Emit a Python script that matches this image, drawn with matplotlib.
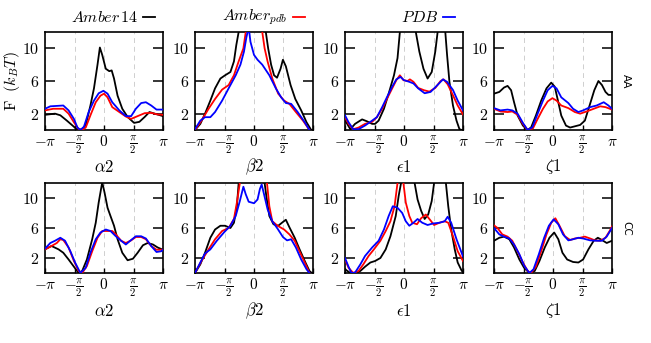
import numpy as np
import matplotlib
matplotlib.use("Agg")
import matplotlib.pyplot as plt
from matplotlib.lines import Line2D

plt.rcParams['mathtext.fontset'] = 'cm'
plt.rcParams['font.family'] = ['DejaVu Sans']

# ---------------- data (x in units of pi, y = F in k_B T) ----------------
rows = ['AA', 'CC']
angle_labels = [r'$\alpha 2$', r'$\beta 2$', r'$\epsilon 1$', r'$\zeta 1$']
series_labels = [r'$Amber\,14$', r'$Amber_{pdb}$', r'$PDB$']
series_colors = ['black', 'red', 'blue']
xtick_vals = [-1, -0.5, 0, 0.5, 1]
xtick_labels = [r'$-\pi$', r'$-\frac{\pi}{2}$', r'$0$', r'$\frac{\pi}{2}$', r'$\pi$']
ytick_vals = [2, 6, 10]

# AA - alpha2
aa_alpha2_amber14 = [(-1, 1.86), (-0.83, 2.0), (-0.74, 1.8), (-0.63, 1.15), (-0.51, 0.4), (-0.45, 0.0),
                     (-0.37, 0.1), (-0.31, 0.6), (-0.23, 3.0), (-0.17, 5.1), (-0.11, 8.0), (-0.07, 10.1),
                     (-0.03, 9.2), (0.03, 7.5), (0.09, 7.2), (0.13, 7.3), (0.17, 6.3), (0.23, 4.2),
                     (0.31, 2.6), (0.40, 1.6), (0.51, 0.87), (0.60, 1.0), (0.69, 1.6), (0.77, 2.2),
                     (0.86, 2.0), (1.0, 1.7)]
aa_alpha2_amberpdb = [(-1, 2.4), (-0.86, 2.6), (-0.69, 2.6), (-0.6, 2.0), (-0.51, 0.95), (-0.43, 0.1),
                      (-0.37, 0.0), (-0.31, 0.3), (-0.23, 1.8), (-0.14, 3.4), (-0.06, 4.2), (0, 4.45),
                      (0.06, 4.0), (0.14, 2.8), (0.26, 2.2), (0.37, 1.65), (0.46, 1.36), (0.57, 1.7),
                      (0.69, 2.06), (0.8, 2.1), (0.91, 1.9), (1, 1.86)]
aa_alpha2_pdb = [(-1, 2.6), (-0.91, 2.9), (-0.69, 3.0), (-0.6, 2.4), (-0.51, 1.36), (-0.45, 0.3),
                 (-0.4, 0.0), (-0.34, 0.4), (-0.26, 2.2), (-0.17, 3.6), (-0.09, 4.5), (-0.01, 4.8),
                 (0.06, 4.45), (0.14, 3.4), (0.26, 2.4), (0.37, 1.7), (0.46, 1.7), (0.54, 2.6),
                 (0.63, 3.3), (0.71, 3.4), (0.8, 3.0), (0.89, 2.5), (1, 2.5)]

# AA - beta2
aa_beta2_amber14 = [(-1, 0), (-0.91, 0.75), (-0.83, 2.0), (-0.74, 3.6), (-0.66, 5.1), (-0.57, 6.3),
                    (-0.49, 6.7), (-0.4, 7.1), (-0.34, 8.4), (-0.3, 10.4), (-0.26, 12.0), (-0.22, 14),
                    (0.16, 14), (0.2, 12), (0.24, 10), (0.29, 8.0), (0.34, 6.7), (0.39, 6.4),
                    (0.45, 7.5), (0.49, 8.6), (0.54, 7.8), (0.62, 5.5), (0.7, 3.8), (0.8, 2.4),
                    (0.89, 0.95), (0.97, 0)]
aa_beta2_amberpdb = [(-1, 0), (-0.89, 1.15), (-0.77, 2.6), (-0.66, 3.8), (-0.54, 4.95), (-0.43, 5.5),
                     (-0.34, 6.7), (-0.26, 8.4), (-0.18, 10), (-0.14, 12), (-0.1, 14), (0.1, 14),
                     (0.14, 12), (0.18, 10), (0.23, 8.4), (0.31, 6.3), (0.41, 4.45), (0.51, 3.6),
                     (0.6, 3.2), (0.71, 2.2), (0.83, 1.15), (0.94, 0)]
aa_beta2_pdb = [(-1, 0.1), (-0.91, 1.15), (-0.83, 1.57), (-0.74, 1.57), (-0.66, 2.2), (-0.54, 3.6),
                (-0.43, 5.1), (-0.31, 6.7), (-0.23, 8.0), (-0.17, 9.6), (-0.13, 11.3), (-0.09, 12.6),
                (-0.06, 10.8), (0, 9.2), (0.06, 8.6), (0.14, 8.0), (0.26, 6.7), (0.37, 5.1),
                (0.46, 4.0), (0.54, 3.3), (0.63, 3.2), (0.74, 2.2), (0.86, 0.95), (0.94, 0)]

# AA - epsilon1
aa_eps1_amber14 = [(-1, 1.2), (-0.91, 0.1), (-0.83, 0.75), (-0.71, 1.3), (-0.63, 1.07), (-0.54, 0.75),
                   (-0.49, 0.75), (-0.43, 1.15), (-0.34, 2.6), (-0.26, 4.45), (-0.17, 6.7), (-0.11, 8.8),
                   (-0.07, 12), (-0.03, 15), (0.16, 15), (0.2, 12), (0.26, 9.6), (0.33, 7.5),
                   (0.4, 6.3), (0.47, 7.1), (0.53, 9.6), (0.57, 12), (0.6, 14), (0.67, 14),
                   (0.7, 12), (0.73, 9.2), (0.77, 5.9), (0.83, 3.0), (0.89, 1.15), (0.94, 0.1), (0.98, 0)]
aa_eps1_amberpdb = [(-1, 1.57), (-0.94, 0.75), (-0.86, 0.1), (-0.77, 0.3), (-0.66, 0.75), (-0.54, 1.0),
                    (-0.46, 1.57), (-0.37, 2.6), (-0.29, 3.8), (-0.2, 5.1), (-0.13, 6.1), (-0.07, 6.7),
                    (-0.01, 6.1), (0.06, 6.0), (0.1, 6.2), (0.16, 5.9), (0.24, 5.15), (0.34, 4.87),
                    (0.43, 4.7), (0.53, 5.15), (0.62, 6.0), (0.67, 6.2), (0.74, 5.6), (0.83, 4.25),
                    (0.91, 3.0), (1, 1.9)]
aa_eps1_pdb = [(-1, 1.8), (-0.94, 0.95), (-0.86, 0.1), (-0.77, 0.1), (-0.66, 0.55), (-0.54, 1.15),
               (-0.46, 1.57), (-0.37, 2.8), (-0.29, 4.0), (-0.2, 5.3), (-0.13, 6.2), (-0.06, 6.5),
               (0, 6.1), (0.09, 5.9), (0.16, 5.7), (0.24, 5.1), (0.35, 4.5), (0.45, 4.66),
               (0.54, 5.3), (0.66, 6.2), (0.73, 5.9), (0.83, 4.9), (0.91, 3.6), (1, 2.4)]

# AA - zeta1
aa_zeta1_amber14 = [(-1, 4.45), (-0.91, 4.66), (-0.83, 5.2), (-0.77, 5.4), (-0.71, 4.87), (-0.66, 3.4),
                    (-0.6, 1.77), (-0.51, 0.54), (-0.43, 0), (-0.37, 0.33), (-0.29, 1.77), (-0.2, 3.6),
                    (-0.11, 5.1), (-0.03, 5.8), (0.03, 5.3), (0.09, 3.4), (0.14, 1.77), (0.22, 0.54),
                    (0.29, 0.3), (0.37, 0.45), (0.46, 0.62), (0.54, 1.15), (0.62, 3.0), (0.7, 4.87),
                    (0.77, 6.0), (0.83, 5.5), (0.89, 4.66), (0.94, 4.3), (1, 4.3)]
aa_zeta1_amberpdb = [(-1, 2.6), (-0.89, 2.27), (-0.77, 2.2), (-0.69, 2.27), (-0.6, 1.86), (-0.51, 0.75),
                     (-0.43, 0), (-0.34, 0.2), (-0.26, 1.36), (-0.17, 2.6), (-0.09, 3.5), (-0.01, 3.9),
                     (0.06, 3.6), (0.14, 3.0), (0.26, 2.68), (0.37, 2.2), (0.46, 2.0), (0.57, 2.27),
                     (0.69, 2.6), (0.8, 2.9), (0.89, 2.8), (1, 2.5)]
aa_zeta1_pdb = [(-1, 2.68), (-0.89, 2.4), (-0.77, 2.5), (-0.69, 2.4), (-0.6, 2.0), (-0.51, 0.87),
                (-0.43, 0), (-0.35, 0.33), (-0.26, 2.0), (-0.17, 3.6), (-0.09, 4.87), (-0.01, 5.4),
                (0.06, 5.1), (0.14, 4.0), (0.26, 3.3), (0.34, 2.6), (0.43, 2.2), (0.51, 2.4),
                (0.63, 2.8), (0.74, 3.0), (0.86, 3.4), (0.94, 3.0), (1, 2.6)]

# CC - alpha2
cc_alpha2_amber14 = [(-1, 3.15), (-0.89, 3.6), (-0.77, 3.15), (-0.69, 2.7), (-0.6, 1.8), (-0.51, 0.84),
                     (-0.43, 0), (-0.37, 0.27), (-0.29, 1.8), (-0.2, 4.5), (-0.14, 6.7), (-0.09, 9.4),
                     (-0.03, 12.1), (0.01, 10.7), (0.06, 8.7), (0.11, 7.6), (0.17, 6.3), (0.23, 4.5),
                     (0.31, 2.7), (0.4, 1.7), (0.49, 1.9), (0.57, 2.7), (0.66, 3.7), (0.74, 4.0),
                     (0.83, 3.8), (0.91, 3.4), (1, 3.1)]
cc_alpha2_amberpdb = [(-1, 3.15), (-0.89, 3.6), (-0.8, 4.0), (-0.74, 4.5), (-0.69, 4.4), (-0.6, 3.4),
                      (-0.51, 1.6), (-0.43, 0.27), (-0.37, 0), (-0.29, 0.93), (-0.2, 2.9), (-0.11, 4.7),
                      (-0.03, 5.6), (0.06, 5.6), (0.14, 5.6), (0.2, 5.15), (0.29, 4.3), (0.37, 4.0),
                      (0.46, 4.35), (0.54, 4.8), (0.63, 4.8), (0.71, 4.5), (0.8, 3.6), (0.89, 3.1), (1, 3.1)]
cc_alpha2_pdb = [(-1, 3.25), (-0.91, 4.0), (-0.83, 4.3), (-0.74, 4.7), (-0.66, 4.3), (-0.57, 2.9),
                 (-0.49, 1.4), (-0.4, 0), (-0.31, 0.7), (-0.23, 2.7), (-0.14, 4.5), (-0.06, 5.4),
                 (0.03, 5.8), (0.11, 5.6), (0.2, 4.9), (0.29, 4.3), (0.37, 3.8), (0.46, 4.4),
                 (0.54, 4.9), (0.63, 4.9), (0.71, 4.6), (0.8, 3.6), (0.89, 2.8), (0.97, 2.9), (1, 3.1)]

# CC - beta2
cc_beta2_amber14 = [(-1, 0), (-0.91, 1.15), (-0.83, 2.7), (-0.74, 4.7), (-0.66, 5.8), (-0.57, 6.3),
                    (-0.49, 6.3), (-0.4, 6.0), (-0.34, 6.7), (-0.29, 8.9), (-0.26, 12), (-0.22, 14),
                    (0.14, 14), (0.18, 12), (0.21, 10.2), (0.26, 7.6), (0.33, 6.5), (0.41, 6.3),
                    (0.49, 6.8), (0.54, 7.1), (0.6, 6.1), (0.69, 4.7), (0.77, 3.2), (0.86, 1.6),
                    (0.94, 0.27), (0.98, 0)]
cc_beta2_amberpdb = [(-1, 0), (-0.89, 1.6), (-0.77, 3.15), (-0.66, 4.5), (-0.54, 5.6), (-0.43, 6.0),
                     (-0.34, 7.2), (-0.29, 9.4), (-0.24, 12), (-0.2, 14), (0.18, 14), (0.22, 12),
                     (0.26, 8.9), (0.31, 6.9), (0.4, 6.3), (0.51, 5.8), (0.6, 5.15), (0.69, 4.3),
                     (0.77, 2.9), (0.86, 1.4), (0.94, 0)]
cc_beta2_pdb = [(-1, 0), (-0.91, 1.4), (-0.83, 2.6), (-0.74, 3.15), (-0.63, 4.3), (-0.51, 5.4),
                (-0.4, 6.3), (-0.31, 7.6), (-0.24, 9.6), (-0.18, 11.5), (-0.14, 10.5), (-0.09, 9.5),
                (0, 9.3), (0.06, 9.8), (0.1, 11.2), (0.13, 11.8), (0.17, 10.5), (0.23, 8.5),
                (0.31, 6.9), (0.4, 5.9), (0.49, 4.8), (0.56, 4.35), (0.63, 4.5), (0.71, 3.4),
                (0.8, 1.8), (0.89, 0.5), (0.94, 0)]

# CC - epsilon1
cc_eps1_amber14 = [(-1, 0.5), (-0.91, 0), (-0.83, 0), (-0.74, 0.27), (-0.66, 0.84), (-0.57, 1.4),
                   (-0.49, 1.6), (-0.4, 2.0), (-0.31, 3.15), (-0.23, 4.9), (-0.14, 7.6), (-0.09, 10.3),
                   (-0.05, 12), (0, 14), (0.14, 14), (0.18, 12), (0.23, 9.8), (0.29, 8.3),
                   (0.35, 7.2), (0.41, 7.8), (0.47, 9.6), (0.51, 12), (0.55, 14), (0.67, 14),
                   (0.71, 12), (0.75, 8.9), (0.8, 5.8), (0.86, 3.15), (0.91, 1.4), (0.98, 0.27), (1, 0.2)]
cc_eps1_amberpdb = [(-1, 1.8), (-0.94, 0.7), (-0.86, 0), (-0.77, 0.27), (-0.69, 1.15), (-0.6, 2.27),
                    (-0.51, 3.15), (-0.4, 4.3), (-0.31, 5.6), (-0.23, 6.9), (-0.16, 8.9), (-0.11, 12),
                    (-0.08, 14), (-0.04, 14), (-0.01, 12), (0.03, 9.4), (0.09, 7.6), (0.14, 6.7),
                    (0.22, 6.5), (0.29, 7.3), (0.37, 7.8), (0.43, 7.2), (0.51, 6.4), (0.6, 6.7),
                    (0.69, 6.9), (0.75, 6.7), (0.83, 4.9), (0.91, 2.9), (1, 1.6)]
cc_eps1_pdb = [(-1, 2.0), (-0.94, 0.84), (-0.89, 0), (-0.83, 0.05), (-0.74, 1.15), (-0.66, 2.27),
               (-0.54, 3.4), (-0.43, 4.3), (-0.34, 5.8), (-0.26, 7.6), (-0.19, 8.9), (-0.11, 8.7),
               (-0.03, 8.0), (0.03, 6.9), (0.09, 6.3), (0.16, 6.7), (0.23, 7.2), (0.31, 6.7),
               (0.4, 6.4), (0.49, 6.6), (0.6, 6.7), (0.69, 6.9), (0.74, 7.5), (0.8, 6.7),
               (0.89, 4.5), (1, 2.2)]

# CC - zeta1
cc_zeta1_amber14 = [(-1, 4.3), (-0.91, 4.7), (-0.83, 4.85), (-0.74, 4.5), (-0.66, 3.4), (-0.57, 1.8),
                    (-0.49, 0.7), (-0.4, 0), (-0.31, 0.27), (-0.23, 1.6), (-0.14, 3.4), (-0.06, 4.7),
                    (0.02, 5.4), (0.09, 4.5), (0.16, 2.7), (0.24, 1.8), (0.34, 1.47), (0.43, 1.4),
                    (0.51, 1.8), (0.6, 3.15), (0.69, 4.3), (0.76, 4.7), (0.83, 4.4), (0.91, 4.0), (1, 4.3)]
cc_zeta1_amberpdb = [(-1, 6.35), (-0.94, 6.0), (-0.86, 5.15), (-0.77, 4.85), (-0.69, 4.3), (-0.6, 2.9),
                     (-0.51, 1.4), (-0.43, 0.27), (-0.37, 0), (-0.29, 0.84), (-0.2, 2.9), (-0.11, 5.15),
                     (-0.03, 6.7), (0.04, 7.3), (0.11, 6.3), (0.2, 4.9), (0.29, 4.4), (0.37, 4.6),
                     (0.46, 4.7), (0.54, 4.85), (0.63, 4.6), (0.71, 4.35), (0.8, 4.3), (0.89, 4.7),
                     (0.96, 5.6), (1, 6.2)]
cc_zeta1_pdb = [(-1, 6.0), (-0.91, 5.15), (-0.83, 4.85), (-0.74, 4.6), (-0.66, 3.8), (-0.57, 2.5),
                (-0.49, 1.0), (-0.4, 0), (-0.33, 0.5), (-0.24, 2.5), (-0.15, 4.7), (-0.07, 6.3),
                (0.01, 7.15), (0.09, 6.5), (0.17, 5.15), (0.26, 4.35), (0.34, 4.5), (0.43, 4.7),
                (0.51, 4.6), (0.63, 4.35), (0.74, 4.3), (0.83, 4.3), (0.91, 4.85), (1, 6.0)]

panels = [
    [[aa_alpha2_amber14, aa_alpha2_amberpdb, aa_alpha2_pdb],
     [aa_beta2_amber14, aa_beta2_amberpdb, aa_beta2_pdb],
     [aa_eps1_amber14, aa_eps1_amberpdb, aa_eps1_pdb],
     [aa_zeta1_amber14, aa_zeta1_amberpdb, aa_zeta1_pdb]],
    [[cc_alpha2_amber14, cc_alpha2_amberpdb, cc_alpha2_pdb],
     [cc_beta2_amber14, cc_beta2_amberpdb, cc_beta2_pdb],
     [cc_eps1_amber14, cc_eps1_amberpdb, cc_eps1_pdb],
     [cc_zeta1_amber14, cc_zeta1_amberpdb, cc_zeta1_pdb]],
]

# ---------------- layout ----------------
W, H = 651, 343
fig = plt.figure(figsize=(W / 100, H / 100), dpi=100)

col_left = [45, 195, 345, 494]
col_w = 118
row_span = [(32, 130), (183, 273)]
xlabel_y = [167, 311]

for r in range(2):
    y0, y1 = row_span[r]
    for c in range(4):
        ax = fig.add_axes([col_left[c] / W, 1 - y1 / H, col_w / W, (y1 - y0) / H])
        for s, pts in enumerate(panels[r][c]):
            arr = np.array(pts, dtype=float)
            ax.plot(arr[:, 0] * np.pi, arr[:, 1], color=series_colors[s], lw=1.3,
                    solid_joinstyle='round', zorder=3 + s)
        ax.set_xlim(-np.pi, np.pi)
        ax.set_ylim(0, 12)
        ax.set_xticks([v * np.pi for v in xtick_vals])
        ax.set_xticklabels(xtick_labels, fontsize=11)
        ax.set_yticks(ytick_vals)
        ax.set_yticklabels([r'$%d$' % v for v in ytick_vals], fontsize=11.5)
        ax.tick_params(axis='y', direction='in', length=7, width=1.1, left=True, right=True, pad=4)
        ax.tick_params(axis='x', direction='in', length=3.5, width=1.0, top=False, pad=3)
        ax.grid(axis='x', color='#cfcfcf', ls=(0, (5, 4)), lw=0.7, zorder=1)
        for sp in ax.spines.values():
            sp.set_linewidth(1.2)
        ax.set_xlabel(angle_labels[c], fontsize=12, va='center')
        ax.xaxis.set_label_coords(0.5, (y1 - xlabel_y[r]) / (y1 - y0))
    fig.text(626 / W, 1 - (y0 + y1) / 2 / H, rows[r], rotation=270, ha='center', va='center',
             fontsize=7.5)

fig.text(12 / W, 1 - 81 / H, r'$\mathrm{F}\ \ (k_B T)$', rotation=90, ha='center', va='center',
         fontsize=11.5)

# legend (text followed by sample line), aligned to the first three columns
for i in range(3):
    xr = col_left[i] + col_w - 8
    fig.text((xr - 17) / W, 1 - 17 / H, series_labels[i], ha='right', va='center', fontsize=11.5)
    fig.add_artist(Line2D([(xr - 12) / W, xr / W], [1 - 17 / H, 1 - 17 / H],
                          transform=fig.transFigure, color=series_colors[i], lw=1.3))

fig.savefig('out.png', dpi=100)
